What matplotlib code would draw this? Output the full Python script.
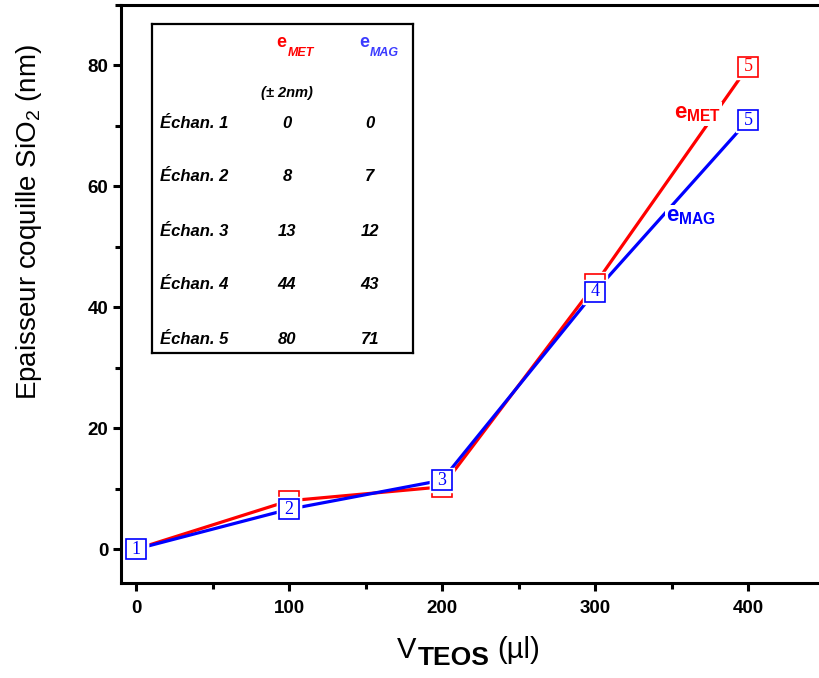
import matplotlib
matplotlib.use('Agg')
import matplotlib.pyplot as plt
from matplotlib.ticker import MultipleLocator

plt.rcParams['font.family'] = ['Liberation Sans', 'DejaVu Sans']
plt.rcParams['mathtext.fontset'] = 'custom'
plt.rcParams['mathtext.rm'] = 'Liberation Sans'
plt.rcParams['mathtext.it'] = 'Liberation Sans:italic'
plt.rcParams['mathtext.bf'] = 'Liberation Sans:bold'

# volumes of TEOS (ul) and measured shell thickness (nm)
v_teos = [0, 100, 200, 300, 400]
e_met = [0, 8.0, 10.3, 43.8, 79.8]
e_mag = [0, 6.6, 11.4, 42.6, 70.9]
sample_ids = ['1', '2', '3', '4', '5']

# values of the inset table
table_rows = ['Échan. 1', 'Échan. 2', 'Échan. 3', 'Échan. 4', 'Échan. 5']
table_met = [0, 8, 13, 44, 80]
table_mag = [0, 7, 12, 43, 71]

red = '#ff0000'
blue = '#0000ff'

fig = plt.figure(figsize=(8.19, 6.78), dpi=100)
W, H = 819, 678
ax = fig.add_axes([120.7 / W, 1 - 583 / H, (824.5 - 120.7) / W, (583 - 5) / H])

ax.plot(v_teos, e_met, color=red, lw=2.3, zorder=2, solid_capstyle='butt')
ax.plot(v_teos, e_mag, color=blue, lw=2.3, zorder=2, solid_capstyle='butt')

for ys, col, z in [(e_met, red, 3), (e_mag, blue, 5)]:
    ax.plot(v_teos, ys, ls='none', marker='s', ms=17, mfc='white', mec='white', zorder=z)
    ax.plot(v_teos, ys, ls='none', marker='s', ms=14, mfc='white', mec=col, mew=1.2, zorder=z + 0.5)

# numbers in the boxes; the red ones are hidden under the blue boxes when the points are close
for x, ym, yg, s in zip(v_teos, e_met, e_mag, sample_ids):
    ax.text(x, yg, s, color=blue, family=['Liberation Serif', 'DejaVu Serif'], fontsize=13,
            ha='center', va='center', zorder=6)
    if abs(ym - yg) > 4:
        ax.text(x, ym, s, color=red, family=['Liberation Serif', 'DejaVu Serif'], fontsize=13,
                ha='center', va='center', zorder=4)

# curve labels, white box cuts the line like in the original
ax.text(367, 72, r'$\mathbf{e}_{\mathbf{MET}}$', color=red, fontsize=16, ha='center', va='center',
        bbox=dict(fc='white', ec='none', pad=1), zorder=4)
ax.text(363, 55, r'$\mathbf{e}_{\mathbf{MAG}}$', color=blue, fontsize=16, ha='center', va='center',
        bbox=dict(fc='white', ec='none', pad=1), zorder=4)

ax.set_xlim(-10, 450)
ax.set_ylim(-5.6, 90)
ax.xaxis.set_major_locator(MultipleLocator(100))
ax.xaxis.set_minor_locator(MultipleLocator(50))
ax.yaxis.set_major_locator(MultipleLocator(20))
ax.yaxis.set_minor_locator(MultipleLocator(10))
ax.tick_params(which='both', direction='out', width=2.2, top=False, right=False)
ax.tick_params(which='major', length=6)
ax.tick_params(which='minor', length=4)
ax.tick_params(axis='x', pad=6)
ax.tick_params(axis='y', pad=3)
for lab in ax.get_xticklabels() + ax.get_yticklabels():
    lab.set_fontweight('bold')
    lab.set_fontsize(13.5)
for sp in ax.spines.values():
    sp.set_linewidth(2.2)
ax.spines['right'].set_visible(False)

# y label sits higher than the axes centre in the original
fig.text(29 / W, 1 - 222 / H, r'Epaisseur coquille SiO$_2$ (nm)', fontsize=20, rotation=90,
         ha='center', va='center')

# x label with a large subscript
fig.text(397 / W, 1 - 658 / H, 'V', fontsize=21, ha='left', va='baseline')
fig.text(418 / W, 1 - 665 / H, 'TEOS', fontsize=19, fontweight='bold', ha='left', va='baseline')
fig.text(497 / W, 1 - 658 / H, '(µl)', fontsize=21, ha='left', va='baseline')

# inset table
tb = fig.add_axes([152 / W, 1 - 353 / H, 261 / W, 329 / H])
tb.set_xticks([])
tb.set_yticks([])
for sp in tb.spines.values():
    sp.set_linewidth(1.6)
tb.set_zorder(10)

tb.text(0.52, 0.945, r'$\mathbf{e}$', color=red, fontsize=13, ha='right', va='center')
tb.text(0.52, 0.93, 'MET', color=red, fontsize=9, fontweight='bold', style='italic', ha='left', va='top')
tb.text(0.835, 0.945, r'$\mathbf{e}$', color='#3b3bff', fontsize=13, ha='right', va='center')
tb.text(0.835, 0.93, 'MAG', color='#3b3bff', fontsize=9, fontweight='bold', style='italic', ha='left', va='top')
tb.text(0.517, 0.79, '(± 2nm)', fontsize=10.5, fontweight='bold', style='italic', ha='center', va='center')

row_y = [0.699, 0.535, 0.368, 0.207, 0.040]
for y, name, m, g in zip(row_y, table_rows, table_met, table_mag):
    tb.text(0.031, y, name, fontsize=12, fontweight='bold', style='italic', ha='left', va='center')
    tb.text(0.517, y, str(m), fontsize=12, fontweight='bold', style='italic', ha='center', va='center')
    tb.text(0.835, y, str(g), fontsize=12, fontweight='bold', style='italic', ha='center', va='center')

fig.savefig('out.png', dpi=100)
